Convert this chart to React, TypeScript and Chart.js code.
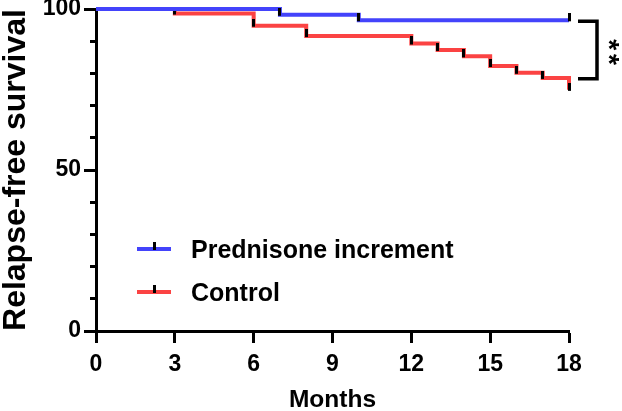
import React, { useEffect, useRef } from 'react';
import { Chart, registerables } from 'chart.js';

Chart.register(...registerables);

// ---- data ----
const seriesLabels = ['Prednisone increment', 'Control'];
const seriesColors = ['#4343fb', '#fb4343'];
const prednisoneMonths = [0, 7, 10, 18];
const prednisoneSurvival = [100, 98.2, 96.5, 96.5];
const controlMonths = [0, 3, 6, 8, 12, 13, 14, 15, 16, 17, 18];
const controlSurvival = [100, 98.6, 94.8, 91.6, 89.3, 87.3, 85.3, 82.3, 80.2, 78.6, 74.9];
const xTickValues = [0, 3, 6, 9, 12, 15, 18];
const yLabelValues = [0, 50, 100];
const bracketValues = [96.2, 78.3];
const bracketLabel = '**';

const FONT = "'Liberation Sans', Arial, Helvetica, sans-serif";

function makeCensorMark(): HTMLCanvasElement {
  const c = document.createElement('canvas');
  c.width = 3;
  c.height = 14;
  const g = c.getContext('2d')!;
  g.fillStyle = '#000';
  g.fillRect(0, 0, 3, 8);
  return c;
}

export default function App() {
  const ref = useRef<HTMLCanvasElement | null>(null);

  useEffect(() => {
    if (!ref.current) return;
    const mark = makeCensorMark();

    const overlay = {
      id: 'overlay',
      afterDraw(chart: any) {
        const ctx = chart.ctx as CanvasRenderingContext2D;
        const xs = chart.scales.x;
        const ys = chart.scales.y;
        ctx.save();
        // legend
        chart.data.datasets.forEach((ds: any, i: number) => {
          const ly = 249 + i * 43;
          ctx.strokeStyle = ds.borderColor;
          ctx.lineWidth = 4;
          ctx.lineCap = 'butt';
          ctx.beginPath();
          ctx.moveTo(137, ly);
          ctx.lineTo(171, ly);
          ctx.stroke();
          ctx.drawImage(mark, 154 - 1.5, ly - 7);
          ctx.fillStyle = '#000';
          ctx.font = `bold 25px ${FONT}`;
          ctx.textAlign = 'left';
          ctx.textBaseline = 'middle';
          ctx.fillText(ds.label, 191, ly + 2);
        });
        // significance bracket
        const xEnd = xs.getPixelForValue(18);
        const yTop = ys.getPixelForValue(bracketValues[0]);
        const yBot = ys.getPixelForValue(bracketValues[1]);
        const xa = xEnd + 9;
        const xb = xEnd + 28;
        ctx.strokeStyle = '#000';
        ctx.lineWidth = 3.5;
        ctx.lineJoin = 'miter';
        ctx.beginPath();
        ctx.moveTo(xa, yTop);
        ctx.lineTo(xb, yTop);
        ctx.lineTo(xb, yBot);
        ctx.lineTo(xa, yBot);
        ctx.stroke();
        ctx.translate(xb + 13, (yTop + yBot) / 2 + 2);
        ctx.rotate(Math.PI / 2);
        ctx.font = `bold 28px ${FONT}`;
        (ctx as any).letterSpacing = '4px';
        ctx.textAlign = 'center';
        ctx.textBaseline = 'middle';
        ctx.fillStyle = '#000';
        ctx.fillText(bracketLabel, 2, 2);
        ctx.restore();
      },
    };

    const chart = new Chart(ref.current, {
      type: 'line',
      data: {
        datasets: [
          {
            label: seriesLabels[0],
            data: prednisoneMonths.map((m, i) => ({ x: m, y: prednisoneSurvival[i] })),
            borderColor: seriesColors[0],
            backgroundColor: seriesColors[0],
            borderWidth: 4,
            stepped: 'before',
            pointStyle: mark,
            pointRadius: (c: any) => (c.dataIndex === 0 ? 0 : 3),
            clip: false,
            fill: false,
          },
          {
            label: seriesLabels[1],
            data: controlMonths.map((m, i) => ({ x: m, y: controlSurvival[i] })),
            borderColor: seriesColors[1],
            backgroundColor: seriesColors[1],
            borderWidth: 4,
            stepped: 'before',
            pointStyle: mark,
            pointRadius: (c: any) => (c.dataIndex === 0 ? 0 : 3),
            clip: false,
            fill: false,
          },
        ],
      } as any,
      options: {
        animation: false,
        responsive: false,
        events: [],
        layout: { padding: { top: 9, right: 53, bottom: 0, left: 0 } },
        plugins: { legend: { display: false }, tooltip: { enabled: false } },
        scales: {
          x: {
            type: 'linear',
            min: 0,
            max: 18,
            afterBuildTicks: (s: any) => {
              s.ticks = xTickValues.map((v) => ({ value: v }));
            },
            ticks: {
              font: { family: FONT, size: 23, weight: 'bold' },
              color: '#000',
              padding: 8,
              maxRotation: 0,
              autoSkip: false,
            },
            grid: { drawOnChartArea: false, drawTicks: true, tickLength: 12, tickWidth: 3, tickColor: '#000' },
            border: { color: '#000', width: 3 },
            title: {
              display: true,
              text: 'Months',
              color: '#000',
              font: { family: FONT, size: 24.5, weight: 'bold', lineHeight: 0.9 },
              padding: 0,
            },
            afterFit: (s: any) => {
              s.height = 80;
              s.paddingLeft = 0;
              s.paddingRight = 0;
            },
          },
          y: {
            type: 'linear',
            position: 'left',
            weight: 1,
            min: 0,
            max: 100,
            afterBuildTicks: (s: any) => {
              s.ticks = yLabelValues.map((v) => ({ value: v }));
            },
            ticks: {
              font: { family: FONT, size: 23, weight: 'bold' },
              color: '#000',
              padding: 3,
            },
            grid: { drawOnChartArea: false, drawTicks: true, tickLength: 12, tickWidth: 3, tickColor: '#000' },
            border: { color: '#000', width: 3 },
            title: {
              display: true,
              text: 'Relapse-free survival',
              color: '#000',
              font: { family: FONT, size: 32, weight: 'bold', lineHeight: 1 },
              padding: 0,
            },
            afterFit: (s: any) => {
              s.width = 96;
              s.paddingTop = 0;
              s.paddingBottom = 0;
            },
          },
          yMinor: {
            type: 'linear',
            position: 'left',
            weight: 0,
            min: 0,
            max: 100,
            ticks: { display: false, stepSize: 10 },
            grid: { drawOnChartArea: false, drawTicks: true, tickLength: 6, tickWidth: 3, tickColor: '#000' },
            border: { display: false },
            afterFit: (s: any) => {
              s.width = 0;
              s.paddingTop = 0;
              s.paddingBottom = 0;
            },
          },
        },
      } as any,
      plugins: [overlay],
    });

    return () => chart.destroy();
  }, []);

  return (
    <div style={{ position: 'absolute', left: 0, top: 0, width: 622, height: 411, background: '#fff' }}>
      <canvas ref={ref} width={622} height={411} style={{ display: 'block' }} />
    </div>
  );
}
